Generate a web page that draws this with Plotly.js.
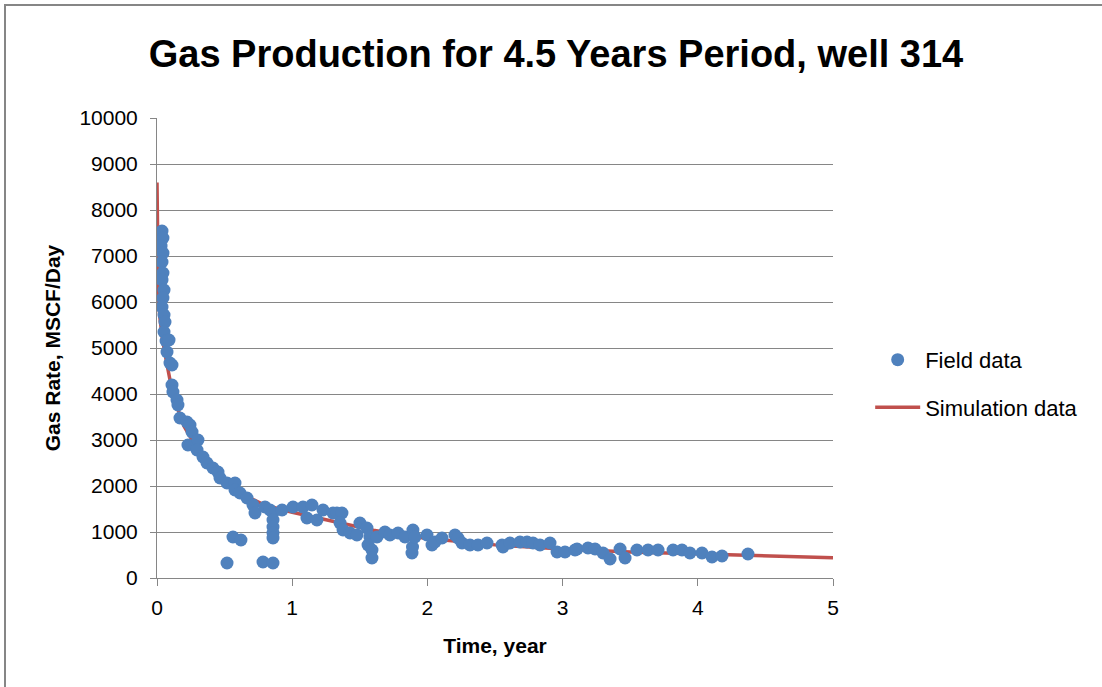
<!DOCTYPE html>
<html>
<head>
<meta charset="utf-8">
<script src="https://cdn.plot.ly/plotly-3.0.1.min.js"></script>
<style>
html,body{margin:0;padding:0;background:#fff;}
#wrap{position:relative;width:1102px;height:687px;overflow:hidden;}
#chart{width:1102px;height:687px;}
#frame{position:absolute;left:4px;top:4px;width:1200px;height:800px;border-top:2px solid #868686;border-left:2px solid #868686;pointer-events:none;}
</style>
</head>
<body>
<div id="wrap"><div id="chart"></div><div id="frame"></div></div>
<script>
// Field data (time in years, gas rate in MSCF/Day)
const fieldTime = [0.037,0.044,0.030,0.044,0.037,0.044,0.037,0.052,0.044,0.037,0.052,0.059,0.052,0.067,0.089,0.074,0.096,0.111,0.111,0.118,0.148,0.155,0.170,0.222,0.244,0.259,0.229,0.303,0.296,0.340,0.370,0.414,0.451,0.466,0.518,0.577,0.577,0.614,0.666,0.710,0.725,0.799,0.836,
0.518,0.562,0.621,0.784,0.858,0.858,0.858,0.858,0.858,0.858,
0.925,1.006,1.080,1.146,1.109,1.183,1.228,1.302,1.331,1.368,1.354,1.376,1.428,1.479,1.501,1.553,1.575,1.561,1.590,1.590,1.627,1.686,1.723,1.783,1.834,1.893,1.886,1.890,1.908,1.997,2.034,2.056,2.108,2.204,2.226,2.256,2.315,2.374,2.441,2.552,2.559,2.611,2.685,2.737,2.781,2.833,2.907,2.959,3.018,3.092,3.107,3.188,3.240,3.299,3.351,3.425,3.462,3.550,3.632,3.706,3.817,3.883,3.942,4.031,4.105,4.179,4.371];
const fieldRate = [7543,7391,7217,7065,6870,6630,6478,6261,6087,5891,5717,5565,5348,5152,5174,4913,4674,4630,4196,4043,3870,3761,3478,3391,3326,3174,2891,3000,2783,2630,2500,2391,2304,2174,2065,2065,1913,1848,1739,1587,1413,1543,1478,
326,891,826,348,326,1413,1261,1109,978,870,
1478,1543,1543,1587,1304,1261,1478,1413,1413,1413,1196,1043,978,935,1196,1087,891,717,609,435,891,1000,935,978,891,1043,543,674,891,935,717,783,870,935,870,761,717,717,761,717,674,761,783,783,761,717,761,565,565,609,630,652,630,543,413,630,435,609,609,609,609,609,543,543,457,478,522];

// Simulation data
const simTime = [0,0.003,0.006,0.01,0.02,0.04,0.07,0.1,0.15,0.2,0.3,0.4,0.5,0.6,0.7,0.8,0.9,1.0,1.2,1.4,1.6,1.8,2.0,2.5,3.0,3.5,4.0,4.5,5.0];
const simRate = [8600,7600,6800,6200,5700,5200,4700,4250,3700,3300,2800,2400,2100,1900,1720,1580,1500,1430,1300,1170,1040,940,860,720,630,565,520,478,440];

const xTicks = [0,1,2,3,4,5];
const yTicks = [0,1000,2000,3000,4000,5000,6000,7000,8000,9000,10000];

const FONT = 'Liberation Sans, Arial, sans-serif';

const traces = [
  {x: simTime, y: simRate, type:'scatter', mode:'lines', name:'Simulation data', legendgroup:'b', legendrank:2,
   line:{color:'#C0504D', width:3.5}, showlegend:true},
  {x: fieldTime, y: fieldRate, type:'scatter', mode:'markers', name:'Field data', legendgroup:'a', legendrank:1,
   marker:{color:'#4F81BD', size:13, line:{width:0}}}
];

const layout = {
  width:1102, height:687,
  margin:{l:157, r:269, t:118, b:109},
  paper_bgcolor:'#fff', plot_bgcolor:'#fff',
  font:{family:FONT, color:'#000', size:21},
  title:{text:'<b>Gas Production for 4.5 Years Period, well 314</b>', font:{family:FONT, size:38, color:'#000'},
    xref:'container', yref:'container', x:0.5045, y:0.922, xanchor:'center', yanchor:'middle'},
  xaxis:{range:[0,5], tickvals:xTicks, ticktext:xTicks.map(String), showgrid:false, zeroline:false,
    showline:true, linecolor:'#868686', linewidth:1, ticks:'outside', ticklen:7, tickcolor:'#868686',
    tickfont:{size:21, family:FONT, color:'#000'}, ticklabelstandoff:4,
    title:{text:'<b>Time, year</b>', font:{size:21, family:FONT, color:'#000'}, standoff:20}},
  yaxis:{range:[0,10000], tickvals:yTicks, ticktext:yTicks.map(String), showgrid:true, gridcolor:'#868686', gridwidth:1,
    zeroline:false, showline:true, linecolor:'#868686', linewidth:1, ticks:'outside', ticklen:6, tickcolor:'#868686',
    tickfont:{size:21, family:FONT, color:'#000'}, ticklabelstandoff:8,
    title:{text:'<b>Gas Rate, MSCF/Day</b>', font:{size:21, family:FONT, color:'#000'}, standoff:13}},
  legend:{x:1.055, y:0.422, xanchor:'left', yanchor:'middle', traceorder:'grouped', tracegroupgap:16,
    itemwidth:45, font:{size:22, family:FONT, color:'#000'}, bgcolor:'rgba(0,0,0,0)'},
  showlegend:true
};

Plotly.newPlot('chart', traces, layout, {displayModeBar:false, staticPlot:true});
</script>
</body>
</html>
